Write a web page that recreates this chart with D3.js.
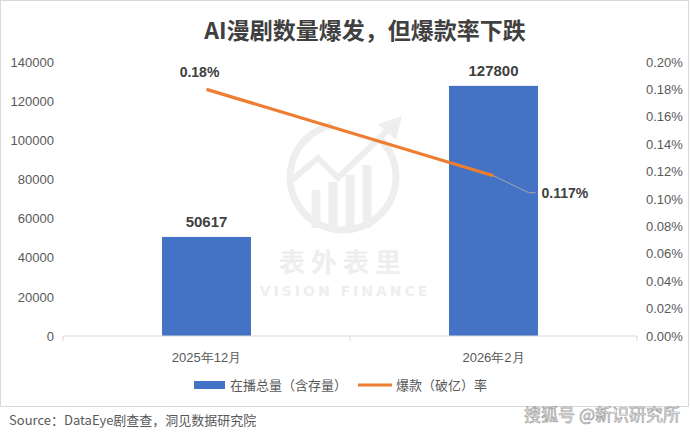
<!DOCTYPE html>
<html>
<head>
<meta charset="utf-8">
<script src="https://cdn.jsdelivr.net/npm/d3@7"></script>
<style>
  body { margin: 0; background: #fff; }
  svg { display: block; font-family: "Noto Sans CJK SC", "Liberation Sans", sans-serif; }
</style>
</head>
<body>
<div id="chart"></div>
<script>
// data
var categories = ["2025年12月", "2026年2月"];
var totals = [50617, 127800];          // 在播总量（含存量）
var hitRates = [0.0018, 0.00117];      // 爆款（破亿）率
var rateLabels = ["0.18%", "0.117%"];
var leftTicks = [0, 20000, 40000, 60000, 80000, 100000, 120000, 140000];
var rightTicks = [0, 0.0002, 0.0004, 0.0006, 0.0008, 0.001, 0.0012, 0.0014, 0.0016, 0.0018, 0.002];
var seriesNames = ["在播总量（含存量）", "爆款（破亿）率"];

var W = 690, H = 433;
var blue = "#4472c4", orange = "#ed7d31", grey = "#595959";

var svg = d3.select("#chart").append("svg").attr("width", W).attr("height", H);

// frame of the original screenshot
svg.append("rect").attr("x", 0.5).attr("y", 0.5).attr("width", W - 2).attr("height", 406)
  .attr("fill", "none").attr("stroke", "#d9d9d9");

svg.append("text").attr("x", 365).attr("y", 39).attr("text-anchor", "middle")
  .attr("font-size", 23).attr("font-weight", "bold").attr("fill", "#404040")
  .text("AI漫剧数量爆发，但爆款率下跌");

var x = d3.scaleBand().domain(categories).range([63, 637]).paddingInner(0.69).paddingOuter(0.345);
var yL = d3.scaleLinear().domain([0, 140000]).range([336, 62]);
var yR = d3.scaleLinear().domain([0, 0.002]).range([336, 62]);

// watermark
var wm = svg.append("g").attr("fill", "none").attr("stroke", "#eeeeee");
wm.append("path").attr("stroke-width", 7)
  .attr("d", d3.arc()({innerRadius: 53, outerRadius: 53, startAngle: 0.75, endAngle: 2 * Math.PI - 0.2}))
  .attr("transform", "translate(343,177)");
wm.selectAll("line.wb").data([0, 1, 2, 3]).enter().append("line")
  .attr("x1", function(d) { return 316 + d * 17; }).attr("x2", function(d) { return 316 + d * 17; })
  .attr("y1", function(d) { return [190, 182, 175, 165][d]; }).attr("y2", 228)
  .attr("stroke-width", 9);
wm.append("polyline").attr("points", "292,180 318,158 338,178 390,128").attr("stroke-width", 6);
wm.append("path").attr("d", "M378,124 L402,116 L396,140 Z").attr("fill", "#eeeeee").attr("stroke", "none");
svg.append("text").attr("x", 343).attr("y", 272).attr("text-anchor", "middle")
  .attr("font-size", 26).attr("font-weight", "bold").attr("fill", "#eeeeee").attr("letter-spacing", 6)
  .text("表外表里");
svg.append("text").attr("x", 345).attr("y", 296).attr("text-anchor", "middle")
  .attr("font-family", "DejaVu Sans").attr("font-size", 14).attr("font-weight", "bold")
  .attr("fill", "#eeeeee").attr("letter-spacing", 3).text("VISION FINANCE");

// bars
svg.selectAll("rect.bar").data(totals).enter().append("rect").attr("class", "bar")
  .attr("x", function(d, i) { return x(categories[i]); })
  .attr("width", x.bandwidth())
  .attr("y", function(d) { return yL(d); })
  .attr("height", function(d) { return yL(0) - yL(d); })
  .attr("fill", blue);

// axes
var axisL = svg.append("g").attr("transform", "translate(54,0)")
  .call(d3.axisLeft(yL).tickValues(leftTicks).tickSize(0).tickPadding(0).tickFormat(d3.format("d")));
var axisR = svg.append("g").attr("transform", "translate(646,0)")
  .call(d3.axisRight(yR).tickValues(rightTicks).tickSize(0).tickPadding(0).tickFormat(d3.format(".2%")));
[axisL, axisR].forEach(function(a) {
  a.select(".domain").remove();
  a.selectAll("text").attr("font-size", 13).attr("fill", grey).attr("font-family", "Liberation Sans");
});

var axisB = svg.append("g").attr("transform", "translate(0,336)")
  .call(d3.axisBottom(x).tickSize(0).tickPadding(17));
axisB.select(".domain").attr("stroke", "#d9d9d9").attr("d", "M63,5V0H637V5");
axisB.selectAll("text").attr("font-size", 13).attr("fill", grey);
axisB.append("line").attr("x1", 350).attr("x2", 350).attr("y1", 0).attr("y2", 5).attr("stroke", "#d9d9d9");

// bar labels
svg.selectAll("text.blab").data(totals).enter().append("text")
  .attr("x", function(d, i) { return x(categories[i]) + x.bandwidth() / 2; })
  .attr("y", function(d) { return yL(d) - 10; })
  .attr("text-anchor", "middle").attr("font-size", 15).attr("font-weight", "bold")
  .attr("font-family", "Liberation Sans").attr("fill", "#404040")
  .text(function(d) { return d; });

// rate line
var cx = function(d, i) { return x(categories[i]) + x.bandwidth() / 2; };
svg.append("path").datum(hitRates)
  .attr("fill", "none").attr("stroke", orange).attr("stroke-width", 3.2)
  .attr("d", d3.line().x(cx).y(function(d) { return yR(d); }));

// leader line for the last point
var lx = cx(hitRates[1], 1), ly = yR(hitRates[1]);
svg.append("polyline")
  .attr("points", [[lx, ly], [lx + 35, ly + 17], [lx + 42, ly + 17]].join(" "))
  .attr("fill", "none").attr("stroke", "#a6a6a6").attr("stroke-width", 1);

svg.append("text").attr("x", cx(hitRates[0], 0) - 7).attr("y", yR(hitRates[0]) - 12)
  .attr("text-anchor", "middle").attr("font-size", 14).attr("font-weight", "bold")
  .attr("font-family", "Liberation Sans").attr("fill", "#404040").text(rateLabels[0]);
svg.append("text").attr("x", lx + 48).attr("y", ly + 22)
  .attr("font-size", 14).attr("font-weight", "bold")
  .attr("font-family", "Liberation Sans").attr("fill", "#404040").text(rateLabels[1]);

// legend
var lg = svg.append("g");
lg.append("rect").attr("x", 194).attr("y", 381).attr("width", 31).attr("height", 8).attr("fill", blue);
lg.append("text").attr("x", 230).attr("y", 390).attr("font-size", 13).attr("fill", grey).text(seriesNames[0]);
lg.append("line").attr("x1", 358).attr("x2", 392).attr("y1", 385).attr("y2", 385)
  .attr("stroke", orange).attr("stroke-width", 3);
lg.append("text").attr("x", 396).attr("y", 390).attr("font-size", 13).attr("fill", grey).text(seriesNames[1]);

// source + platform mark
svg.append("text").attr("x", 9).attr("y", 425).attr("font-size", 13).attr("fill", grey)
  .text("Source：DataEye剧查查，洞见数据研究院");
svg.append("text").attr("x", 680).attr("y", 421).attr("text-anchor", "end")
  .attr("font-size", 17).attr("fill", "#fff").attr("stroke", "#a0a0a0").attr("stroke-width", 0.7)
  .text("搜狐号 @新识研究所");
</script>
</body>
</html>
